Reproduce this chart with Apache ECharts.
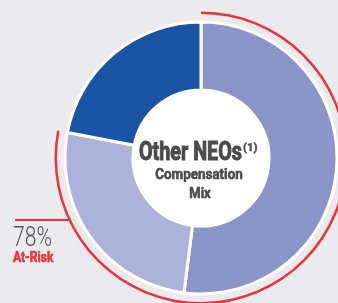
<!DOCTYPE html>
<html><head><meta charset="utf-8">
<script src="https://cdn.jsdelivr.net/npm/echarts@6/dist/echarts.min.js"></script>
<style>html,body{margin:0;padding:0;background:#ebebed}#c{width:338px;height:303px}</style>
</head><body><div id="c"></div>
<script>
const categories = ['Long-Term Incentive', 'Annual Incentive', 'Base Salary'];
const mixValues = [52, 26, 22];
const atRiskValues = [78, 22];
const atRiskLabel = '78%';
const colors = ['#8a95c9', '#abb3da', '#1a55a5'];
const FONT = 'Roboto, "Liberation Sans", sans-serif';
const ctx = document.createElement('canvas').getContext('2d');
function fit(text, font, w) { ctx.font = font; return w / ctx.measureText(text).width; }
function txt(text, weight, size, x, capY, w, align, fill, bolden) {
  const font = weight + ' ' + size + 'px ' + FONT;
  const style = {text: text, font: font, fill: fill, align: align, verticalAlign: 'middle'};
  if (bolden) { style.stroke = fill; style.lineWidth = bolden; }
  return {type: 'text', z: 50, x: x, y: capY + 0.065 * size, scaleX: fit(text, font, w - (bolden || 0)), silent: true, style: style};
}
const chart = echarts.init(document.getElementById('c'), null, {renderer: 'canvas'});
chart.setOption({
  backgroundColor: '#ebebed',
  animation: false,
  series: [
    {
      type: 'pie', silent: true, center: [201, 158], radius: [0, 70], z: 1,
      label: {show: false}, labelLine: {show: false},
      data: [{value: 1, itemStyle: {color: '#ffffff'}}]
    },
    {
      type: 'pie', silent: true, center: [201, 158], radius: [68, 136], z: 2,
      startAngle: 90, clockwise: true,
      label: {show: false}, labelLine: {show: false},
      itemStyle: {borderColor: '#ffffff', borderWidth: 3},
      data: categories.map((n, i) => ({name: n, value: mixValues[i], itemStyle: {color: colors[i]}}))
    },
    {
      type: 'pie', silent: true, center: [201, 158], radius: [144, 146.5], z: 2,
      startAngle: 90, clockwise: true,
      label: {show: false}, labelLine: {show: false},
      data: [
        {value: atRiskValues[0], itemStyle: {color: '#e8333f'}},
        {value: atRiskValues[1], itemStyle: {color: 'rgba(0,0,0,0)'}}
      ]
    }
  ],
  graphic: {
    elements: [
      {type: 'line', z: 50, shape: {x1: 15, y1: 220, x2: 71, y2: 220}, style: {stroke: '#e8333f', lineWidth: 2}, silent: true},
      txt(atRiskLabel, '300', 27, 13, 237.5, 39, 'left', '#555555', 0),
      txt('At-Risk', 'bold', 14, 13, 258, 41, 'left', '#e8333f', 0.6),
      txt('Other NEOs', 'bold', 25, 139, 152, 104, 'left', '#4a4a4a', 1),
      txt('(1)', 'bold', 11, 243, 147.5, 15, 'left', '#4a4a4a', 0.4),
      txt('Compensation', 'bold', 15, 199, 174.5, 88, 'center', '#4a4a4a', 0.6),
      txt('Mix', 'bold', 15, 200, 193, 22, 'center', '#4a4a4a', 0.6)
    ]
  }
});
</script></body></html>
